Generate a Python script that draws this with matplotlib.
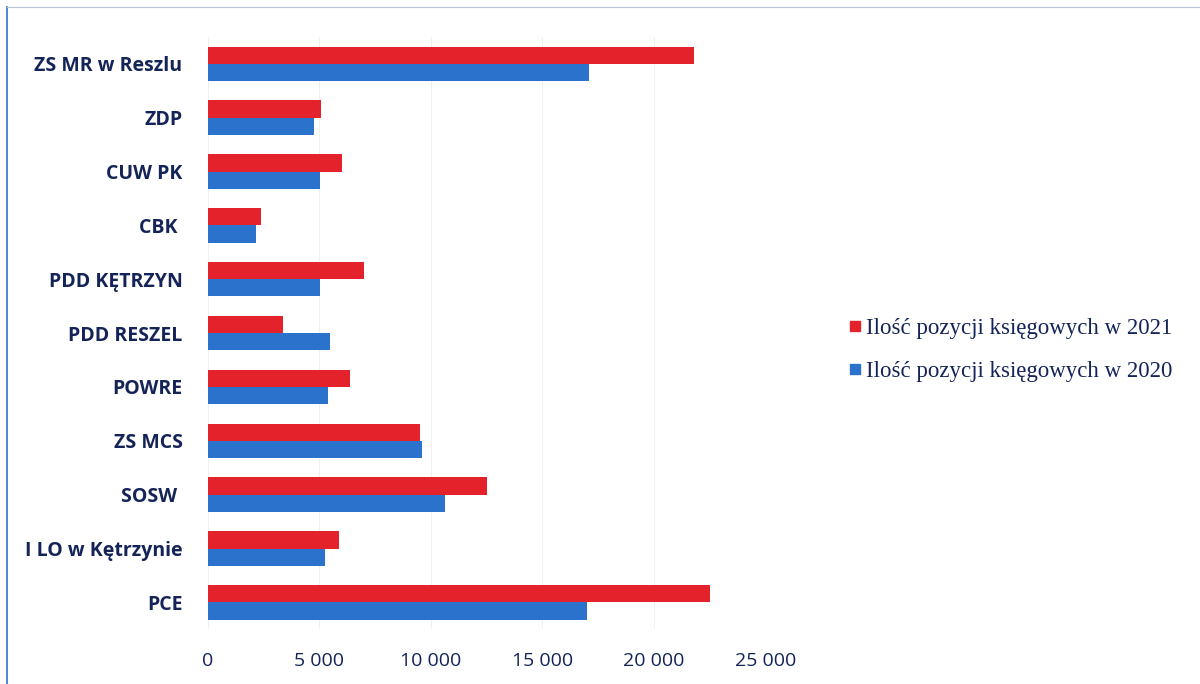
import matplotlib.pyplot as plt
import numpy as np
from matplotlib.lines import Line2D

kategorie = ['ZS MR w Reszlu', 'ZDP', 'CUW PK', 'CBK ', 'PDD KĘTRZYN', 'PDD RESZEL',
             'POWRE', 'ZS MCS', 'SOSW ', 'I LO w Kętrzynie', 'PCE']
poz_2021 = [21800, 5100, 6000, 2400, 7000, 3400, 6400, 9500, 12500, 5900, 22500]
poz_2020 = [17100, 4750, 5050, 2150, 5050, 5500, 5400, 9600, 10650, 5250, 17000]
ticki = [0, 5000, 10000, 15000, 20000, 25000]

czerwony = '#e3222b'
niebieski = '#2b72cc'
granat = '#152458'

fig = plt.figure(figsize=(12, 6.84), dpi=100)
ax = fig.add_axes([0.173, 0.08, 0.465, 0.866])

y = np.arange(len(kategorie))
h = 0.32
ax.barh(y - h / 2, poz_2021, height=h, color=czerwony, label='Ilość pozycji księgowych w 2021')
ax.barh(y + h / 2, poz_2020, height=h, color=niebieski, label='Ilość pozycji księgowych w 2020')

ax.set_ylim(len(kategorie) - 0.5, -0.5)
ax.set_xlim(0, 25000)
ax.set_xticks(ticki)
ax.set_xticklabels(['0' if t == 0 else f'{t:,}'.replace(',', ' ') for t in ticki],
                   fontsize=14, color=granat, family='Open Sans')
ax.set_yticks(y)
ax.set_yticklabels(kategorie, fontsize=14, fontweight='bold', color=granat, family='Open Sans')
ax.tick_params(length=0, axis='y', pad=18)
ax.tick_params(length=0, axis='x', pad=16)
ax.grid(axis='x', color='#f0f0f0', linewidth=0.8)
ax.set_axisbelow(True)
for s in ax.spines.values():
    s.set_visible(False)

handles = [Line2D([], [], marker='s', linestyle='', color=czerwony, markersize=7),
           Line2D([], [], marker='s', linestyle='', color=niebieski, markersize=7)]
fig.legend(handles, ['Ilość pozycji księgowych w 2021', 'Ilość pozycji księgowych w 2020'],
           loc='center left', bbox_to_anchor=(0.688, 0.488), frameon=False,
           prop={'family': 'Liberation Serif', 'size': 16.5}, labelcolor=granat,
           handletextpad=0.05, labelspacing=0.95, handlelength=0.8)

# ramka skanu
fig.add_artist(Line2D([0.006, 0.006], [0, 0.99], color='#2b6fd0', linewidth=1.2))
fig.add_artist(Line2D([0.006, 1], [0.99, 0.99], color='#b8c4d8', linewidth=0.8))

fig.savefig('out.png', dpi=100)
